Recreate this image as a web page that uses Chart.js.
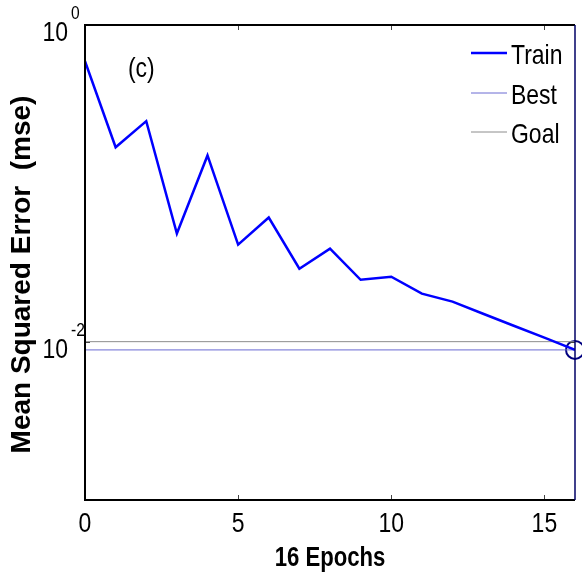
<!DOCTYPE html>
<html>
<head>
<meta charset="utf-8">
<script src="https://cdn.jsdelivr.net/npm/chart.js@4.4.1/dist/chart.umd.min.js"></script>
<style>
  html, body { margin: 0; padding: 0; background: #fff; overflow: hidden; }
  #wrap { width: 582px; height: 576px; }
  canvas { display: block; }
</style>
</head>
<body>
<div id="wrap"><canvas id="mse-chart" width="582" height="576"></canvas></div>
<script>
// values
const epochs = [0, 1, 2, 3, 4, 5, 6, 7, 8, 9, 10, 11, 12, 13, 14, 15, 16];
const trainMse = [0.59, 0.169, 0.247, 0.0482, 0.150, 0.0410, 0.0608, 0.0289, 0.0387,
                  0.0246, 0.0257, 0.0201, 0.0179, 0.0150, 0.0126, 0.0106, 0.00887];
const bestEpoch = 16;
const bestMse = 0.00887;
const goalMse = 0.01;
const xTicks = [0, 5, 10, 15];
const yTicks = [1, 0.01];
const legendLabels = ['Train', 'Best', 'Goal'];
const xTitle = '16 Epochs';
const yTitle = 'Mean Squared Error  (mse)';
const panelTag = '(c)';

const FAMILY = '"Liberation Sans", Arial, sans-serif';
const SQUEEZE = 0.82; // the figure's horizontal text is narrow

// draw text squeezed horizontally, anchored at (x, y)
const narrowText = (ctx, text, x, y, size, align, bold) => {
    ctx.save();
    ctx.font = (bold ? 'bold ' : '') + size + 'px ' + FAMILY;
    ctx.textAlign = align;
    ctx.textBaseline = 'alphabetic';
    ctx.translate(x, y);
    ctx.scale(SQUEEZE, 1);
    ctx.fillText(text, 0, 0);
    ctx.restore();
};

const framePlugin = {
    id: 'matlabFrame',
    afterDraw(chart) {
        const ctx = chart.ctx;
        const { left, right, top, bottom } = chart.chartArea;
        const xs = chart.scales.x;
        const ys = chart.scales.y;
        ctx.save();

        // inward tick marks
        ctx.strokeStyle = '#444';
        ctx.lineWidth = 1;
        ctx.beginPath();
        xTicks.forEach(v => {
            const px = Math.round(xs.getPixelForValue(v)) + 0.5;
            ctx.moveTo(px, bottom); ctx.lineTo(px, bottom - 5);
            ctx.moveTo(px, top); ctx.lineTo(px, top + 5);
        });
        yTicks.forEach(v => {
            const py = Math.round(ys.getPixelForValue(v)) + 0.5;
            ctx.moveTo(left, py); ctx.lineTo(left + 5, py);
            ctx.moveTo(right, py); ctx.lineTo(right - 5, py);
        });
        ctx.stroke();

        // box
        ctx.lineWidth = 2;
        ctx.strokeStyle = '#000';
        ctx.beginPath();
        ctx.moveTo(right, top); ctx.lineTo(left, top); ctx.lineTo(left, bottom); ctx.lineTo(right, bottom);
        ctx.stroke();
        ctx.strokeStyle = '#000066';
        ctx.lineWidth = 1.5;
        ctx.beginPath();
        ctx.moveTo(right, top); ctx.lineTo(right, bottom);
        ctx.stroke();

        ctx.fillStyle = '#000';

        // x tick labels and title
        xTicks.forEach(v => {
            narrowText(ctx, String(v), xs.getPixelForValue(v), bottom + 32, 28, 'center', false);
        });
        narrowText(ctx, xTitle, (left + right) / 2, bottom + 66, 27, 'center', true);

        // y tick labels as 10 with a superscript
        yTicks.forEach(v => {
            const py = ys.getPixelForValue(v);
            narrowText(ctx, '10', left - 17, py + 16, 28, 'right', false);
            narrowText(ctx, String(Math.round(Math.log10(v))), left - 14, py - 6, 19, 'left', false);
        });

        // y title, rotated
        ctx.save();
        ctx.font = 'bold 28px ' + FAMILY;
        ctx.textAlign = 'center';
        ctx.textBaseline = 'middle';
        ctx.translate(22, (top + bottom) / 2 + 12);
        ctx.rotate(-Math.PI / 2);
        ctx.fillText(yTitle, 0, 0);
        ctx.restore();

        // panel tag
        narrowText(ctx, panelTag, xs.getPixelForValue(1.4), ys.getPixelForValue(0.47), 28, 'left', false);

        // legend in the upper right
        const rows = [53, 93, 132];
        legendLabels.forEach((lab, i) => {
            const ds = chart.data.datasets[i];
            ctx.strokeStyle = ds.borderColor;
            ctx.lineWidth = ds.borderWidth;
            ctx.beginPath();
            ctx.moveTo(right - 104, rows[i]);
            ctx.lineTo(right - 68, rows[i]);
            ctx.stroke();
            narrowText(ctx, lab, right - 64, rows[i] + 11, 28, 'left', false);
        });
        ctx.restore();
    }
};

new Chart(document.getElementById('mse-chart'), {
    type: 'line',
    data: {
        datasets: [
            {
                label: 'Train',
                data: epochs.map((e, i) => ({ x: e, y: trainMse[i] })),
                borderColor: '#0000ff',
                borderWidth: 2.5,
                pointRadius: 0,
                tension: 0
            },
            {
                label: 'Best',
                data: [{ x: epochs[0], y: bestMse }, { x: epochs[epochs.length - 1], y: bestMse }],
                borderColor: '#6a6ad2',
                borderWidth: 1,
                pointRadius: 0
            },
            {
                label: 'Goal',
                data: [{ x: epochs[0], y: goalMse }, { x: epochs[epochs.length - 1], y: goalMse }],
                borderColor: '#8c8c8c',
                borderWidth: 1,
                pointRadius: 0
            },
            {
                label: 'Best point',
                data: [{ x: bestEpoch, y: bestMse }],
                showLine: false,
                pointRadius: 9,
                pointBorderColor: '#000080',
                pointBorderWidth: 2,
                pointBackgroundColor: 'rgba(0,0,0,0)',
                clip: false
            }
        ]
    },
    options: {
        responsive: false,
        animation: false,
        layout: { autoPadding: false, padding: { top: 25, right: 7, left: 0, bottom: 0 } },
        plugins: { legend: { display: false }, tooltip: { enabled: false } },
        scales: {
            x: {
                type: 'linear',
                min: 0,
                max: 16,
                afterFit: s => { s.height = 76; },
                grid: { display: false, drawTicks: false },
                border: { display: false },
                ticks: { display: false }
            },
            y: {
                type: 'logarithmic',
                min: 0.001,
                max: 1,
                afterFit: s => { s.width = 85; },
                grid: { display: false, drawTicks: false },
                border: { display: false },
                ticks: { display: false }
            }
        }
    },
    plugins: [framePlugin]
});
</script>
</body>
</html>
